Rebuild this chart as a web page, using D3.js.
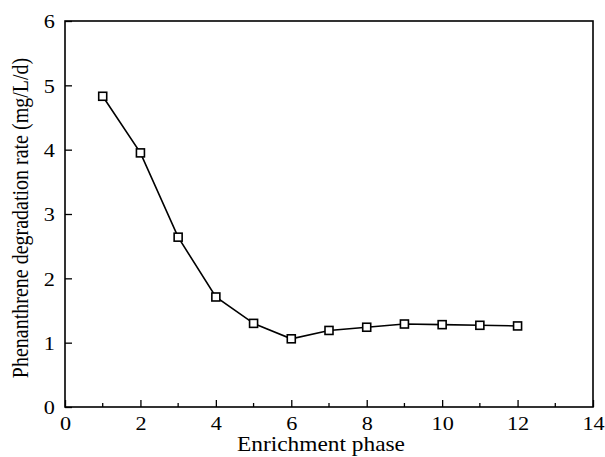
<!DOCTYPE html>
<html>
<head>
<meta charset="utf-8">
<script src="https://cdn.jsdelivr.net/npm/d3@7.9.0/dist/d3.min.js"></script>
<style>
  body { margin: 0; background: #fff; }
  svg { display: block; font-family: "Liberation Serif", "Times New Roman", serif; }
</style>
</head>
<body>
<svg width="605" height="457"></svg>
<script>
const phases = [1, 2, 3, 4, 5, 6, 7, 8, 9, 10, 11, 12];
const rates = [4.83, 3.95, 2.64, 1.71, 1.30, 1.06, 1.19, 1.24, 1.29, 1.28, 1.27, 1.26];
const xTicks = [0, 2, 4, 6, 8, 10, 12, 14];
const xMinor = [1, 3, 5, 7, 9, 11, 13];
const yTicks = [0, 1, 2, 3, 4, 5, 6];

const svg = d3.select('svg');
const margin = { left: 65, right: 12, top: 21, bottom: 50 };
const W = 605, H = 457;
const stretch = 1.14; // the picture's type is a little wider than it is tall

let x = d3.scaleLinear().domain([0, 14]).range([margin.left, W - margin.right]);
let y = d3.scaleLinear().domain([0, 6]).range([H - margin.bottom, margin.top]);

// frame
svg.append('rect')
  .attr('x', x(0)).attr('y', y(6))
  .attr('width', x(14) - x(0)).attr('height', y(0) - y(6))
  .attr('fill', 'none').attr('stroke', '#000').attr('stroke-width', 1.6);

// x axis (inward ticks)
let xAxis = svg.append('g').attr('transform', `translate(0,${y(0)})`)
  .call(d3.axisBottom(x).tickValues(xTicks).tickFormat(d3.format('d'))
    .tickSizeInner(-7).tickSizeOuter(0).tickPadding(9));
xAxis.append('g').selectAll('line').data(xMinor).join('line')
  .attr('x1', (d) => x(d)).attr('x2', (d) => x(d))
  .attr('y1', 0).attr('y2', -4).attr('stroke', '#000').attr('stroke-width', 1.3);

let yAxis = svg.append('g').attr('transform', `translate(${x(0)},0)`)
  .call(d3.axisLeft(y).tickValues(yTicks).tickFormat(d3.format('d'))
    .tickSizeInner(-7).tickSizeOuter(0).tickPadding(9));

[xAxis, yAxis].forEach((g) => {
  g.attr('font-size', null).attr('font-family', null);
  g.select('.domain').remove();
  g.selectAll('.tick line').attr('stroke', '#000').attr('stroke-width', 1.3);
  g.selectAll('text').style('font-size', '19.5px').attr('fill', '#000')
    .attr('transform', `scale(${stretch},1)`);
});
yAxis.selectAll('text').attr('dy', '0.35em');

// line + markers
let line = d3.line().x((d, i) => x(phases[i])).y((d) => y(d));
svg.append('path').datum(rates)
  .attr('d', line).attr('fill', 'none').attr('stroke', '#000').attr('stroke-width', 1.6);

svg.append('g').selectAll('rect').data(rates).join('rect')
  .attr('x', (d, i) => x(phases[i]) - 4).attr('y', (d) => y(d) - 4)
  .attr('width', 8).attr('height', 8)
  .attr('fill', '#fff').attr('stroke', '#000').attr('stroke-width', 1.6);

// titles
svg.append('text')
  .attr('transform', `translate(${(x(0) + x(14)) / 2 - 8},451) scale(${stretch},1)`)
  .attr('text-anchor', 'middle').style('font-size', '20.5px')
  .text('Enrichment phase');

svg.append('text')
  .attr('transform', `translate(28,${(y(0) + y(6)) / 2 + 4}) rotate(-90) scale(1,${stretch})`)
  .attr('text-anchor', 'middle').style('font-size', '20px')
  .text('Phenanthrene degradation rate (mg/L/d)');
</script>
</body>
</html>
